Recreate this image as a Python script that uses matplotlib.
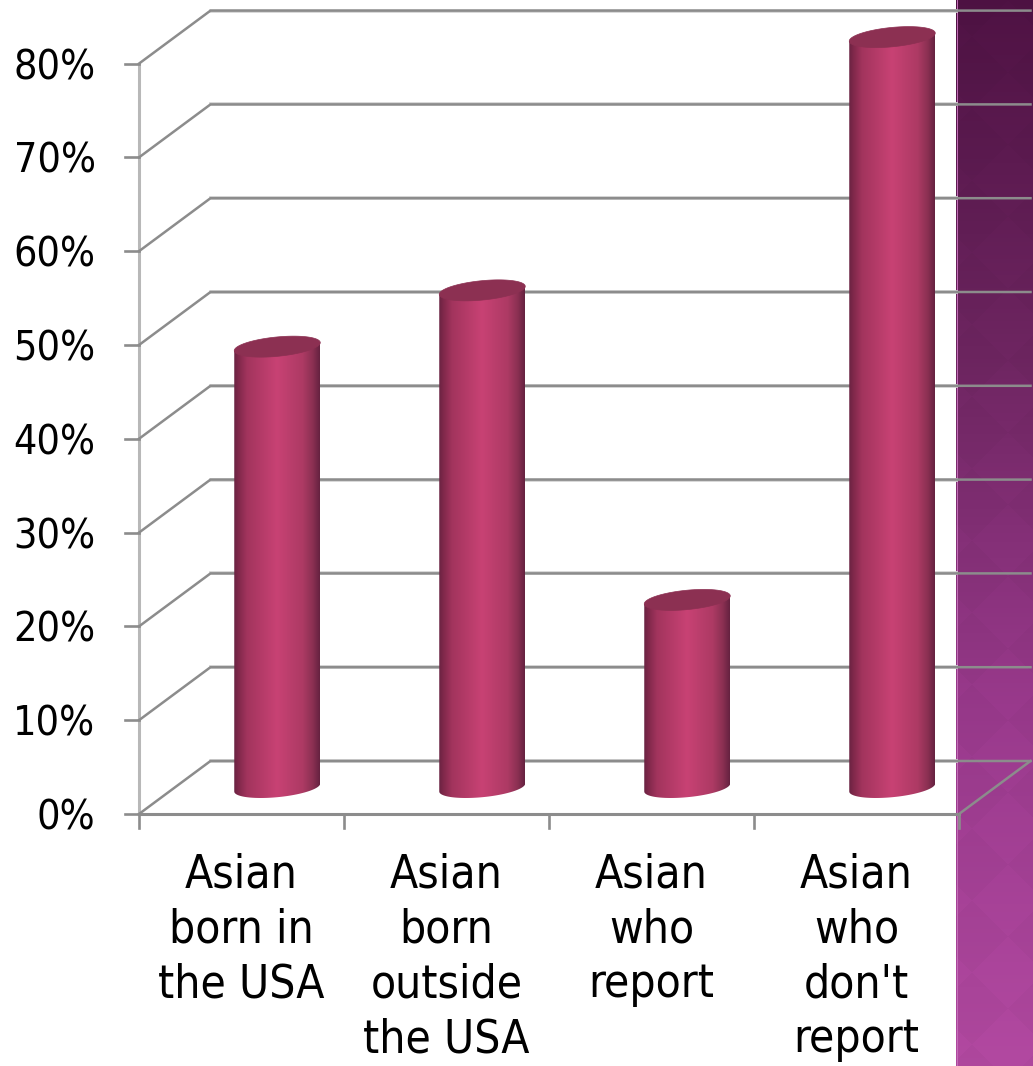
import matplotlib
matplotlib.use("Agg")
import matplotlib.pyplot as plt
import numpy as np
from matplotlib.colors import LinearSegmentedColormap
from matplotlib.patches import PathPatch
from matplotlib.path import Path

categories = ["Asian\nborn in\nthe USA", "Asian\nborn\noutside\nthe USA", "Asian\nwho\nreport", "Asian\nwho\ndon't\nreport"]
values = [47, 53, 20, 80]
y_ticks = [0, 10, 20, 30, 40, 50, 60, 70, 80]

W, H = 1033, 1066
# one category = 205 px, 10% = 93.8 px, front floor corner at (139, 814)
px_x = 205.0
px_y = 9.38
depth_x = 71.5 / px_x
depth_y = 53 / px_y
bar_w = 86 / px_x


def xpx(p):
    return (p - 139) / px_x - 0.5


def ypx(p):
    return (814 - p) / px_y


plt.rcParams['font.family'] = 'DejaVu Sans'
fig = plt.figure(figsize=(W / 100, H / 100), dpi=100)
ax = fig.add_axes([0, 0, 1, 1])
ax.set_xlim(xpx(0), xpx(W))
ax.set_ylim(ypx(H), ypx(0))
ax.axis('off')

# purple panel on the right with faint diamonds
py, qx = np.mgrid[0:H, 956:W]
checks = (np.floor((qx + py) / 72.0) + np.floor((qx - py) / 72.0)) % 2
panel_cmap = LinearSegmentedColormap.from_list('panel', ['#4e1243', '#6d2560', '#98398b', '#b0489f'])
panel = panel_cmap(py / H)[:, :, :3]
panel = panel * (1 + 0.022 * (checks - 0.5))[:, :, None]
ax.imshow(np.clip(panel, 0, 1), extent=(xpx(956), xpx(W), ypx(H), ypx(0)), aspect='auto', zorder=1,
          interpolation='bilinear')
ax.plot([xpx(956.5)] * 2, [ypx(0), ypx(H)], color='#c46fb8', lw=0.7, zorder=1.1)

grid_c = '#8c8c8c'
x0, x1 = -0.5, len(categories) - 0.5

# walls
for v in y_ticks:
    xs = [x0, x0 + depth_x, x1 + depth_x]
    ys = [v, v + depth_y, v + depth_y]
    ax.plot([x0 + depth_x, xpx(956)], [v + depth_y, v + depth_y], color='#d4d4d4', lw=2.7, zorder=2)
    ax.plot(xs, ys, color=grid_c, lw=1.8, zorder=2.1, solid_joinstyle='miter')
    ax.plot([x0 - 14 / px_x, x0], [v, v], color=grid_c, lw=1.9, zorder=2.1)
ax.plot([x1, x1 + depth_x], [0, depth_y], color=grid_c, lw=1.8, zorder=2.1)

# front axes
ax.plot([x0, x0], [0, y_ticks[-1]], color='#b8b8b8', lw=2.2, zorder=2)
ax.plot([x0, x1], [0, 0], color=grid_c, lw=2.2, zorder=2.2)
for i in range(len(categories) + 1):
    ax.plot([x0 + i] * 2, [0, -14 / px_y], color=grid_c, lw=1.9, zorder=2.2)

# cylinders
side_cmap = LinearSegmentedColormap.from_list('side', [
    (0.0, '#6a2342'), (0.06, '#83294c'), (0.15, '#a2345d'), (0.5, '#c84274'),
    (0.8, '#ad3a64'), (0.92, '#8a3052'), (1.0, '#652240')])
a = bar_w / 2
b = 9.7 / px_y
tilt = 4 / px_y
t = np.linspace(0, 2 * np.pi, 121)
for i, v in enumerate(values):
    cx = i + depth_x / 2
    base = depth_y / 2
    top = base + v
    ell_x = cx + a * np.cos(t)
    ell_low = b * np.sin(t) + tilt * np.cos(t)
    # side: bottom half of base ellipse then straight up
    low = t[60:]
    sx = cx + a * np.cos(low)
    sy = base + b * np.sin(low) + tilt * np.cos(low)
    verts = list(zip(sx, sy)) + [(cx + a, top + tilt), (cx - a, top - tilt), (sx[0], sy[0])]
    codes = [Path.MOVETO] + [Path.LINETO] * (len(verts) - 2) + [Path.CLOSEPOLY]
    clip = PathPatch(Path(verts, codes), fc='none', ec='none', transform=ax.transData)
    ax.add_patch(clip)
    im = ax.imshow(np.linspace(0, 1, 256)[None, :], cmap=side_cmap, aspect='auto', zorder=3,
                   extent=(cx - a, cx + a, base - b - tilt, top + b + tilt), interpolation='bilinear')
    im.set_clip_path(clip)
    ax.fill(ell_x, top + ell_low, color='#8c3052', lw=0.5, zorder=3.2)

ax.set_xlim(xpx(0), xpx(W))
ax.set_ylim(ypx(H), ypx(0))

# text
for v in y_ticks:
    ax.text(xpx(95.5), v, f"{v}%", ha='right', va='center_baseline', fontsize=29.5, stretch='condensed',
            color='#000000', zorder=5)
for i, lab in enumerate(categories):
    ax.text(i, ypx(852), lab, ha='center', va='top', fontsize=33, stretch='condensed',
            linespacing=1.29, color='#000000', zorder=5)

fig.savefig('out.png', dpi=100)
